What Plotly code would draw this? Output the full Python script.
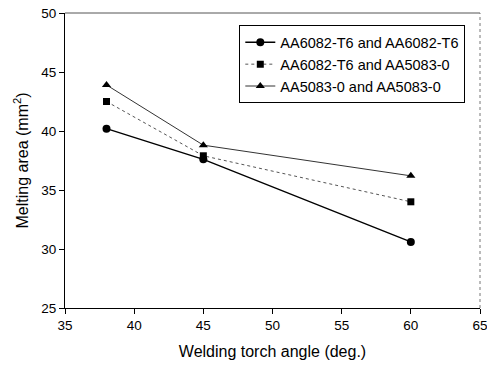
import plotly.graph_objects as go

angles = [38, 45, 60]
s1_name = "AA6082-T6 and AA6082-T6"
s1_vals = [40.2, 37.6, 30.6]
s2_name = "AA6082-T6 and AA5083-0"
s2_vals = [42.5, 37.9, 34.0]
s3_name = "AA5083-0 and AA5083-0"
s3_vals = [43.9, 38.8, 36.2]

fig = go.Figure()
fig.add_trace(go.Scatter(x=angles, y=s1_vals, name=s1_name, mode="lines+markers",
                         line=dict(color="black", width=1.4),
                         marker=dict(symbol="circle", size=8, color="black")))
fig.add_trace(go.Scatter(x=angles, y=s2_vals, name=s2_name, mode="lines+markers",
                         line=dict(color="#555555", width=1, dash="dot"),
                         marker=dict(symbol="square", size=7, color="black")))
fig.add_trace(go.Scatter(x=angles, y=s3_vals, name=s3_name, mode="lines+markers",
                         line=dict(color="#333333", width=1),
                         marker=dict(symbol="triangle-up", size=8, color="black")))

font = "Liberation Sans, Arial, sans-serif"
fig.update_layout(
    width=487, height=370,
    margin=dict(l=65, r=7, t=13, b=62),
    paper_bgcolor="white", plot_bgcolor="white",
    font=dict(family=font, size=13.5, color="black"),
    showlegend=True,
    legend=dict(x=0.42, y=0.958, xanchor="left", yanchor="top",
                bordercolor="black", borderwidth=1, bgcolor="white",
                font=dict(size=14.5), tracegroupgap=0, itemwidth=30),
)
fig.add_shape(type="line", xref="paper", yref="paper", x0=0, x1=1, y0=1, y1=1,
              line=dict(color="#555555", width=1))
fig.add_shape(type="line", xref="paper", yref="paper", x0=1, x1=1, y0=0, y1=1,
              line=dict(color="#777777", width=1, dash="dot"))
fig.update_xaxes(range=[35, 65], tickvals=[35, 40, 45, 50, 55, 60, 65],
                 ticks="outside", ticklen=5, tickcolor="black", automargin=False,
                 ticklabeloverflow="allow",
                 showline=True, linecolor="black", linewidth=1, mirror=False,
                 showgrid=False, zeroline=False,
                 title=dict(text="Welding torch angle (deg.)", font=dict(size=16), standoff=13))
fig.update_yaxes(range=[25, 50], tickvals=[25, 30, 35, 40, 45, 50],
                 ticks="outside", ticklen=5, tickcolor="black", automargin=False,
                 ticklabeloverflow="allow",
                 showline=True, linecolor="black", linewidth=1, mirror=False,
                 showgrid=False, zeroline=False,
                 title=dict(text="Melting area (mm<sup>2</sup>)", font=dict(size=16), standoff=8))

fig.write_html("out.html", config={"displayModeBar": False},
               post_script="document.body.style.margin='0';")
